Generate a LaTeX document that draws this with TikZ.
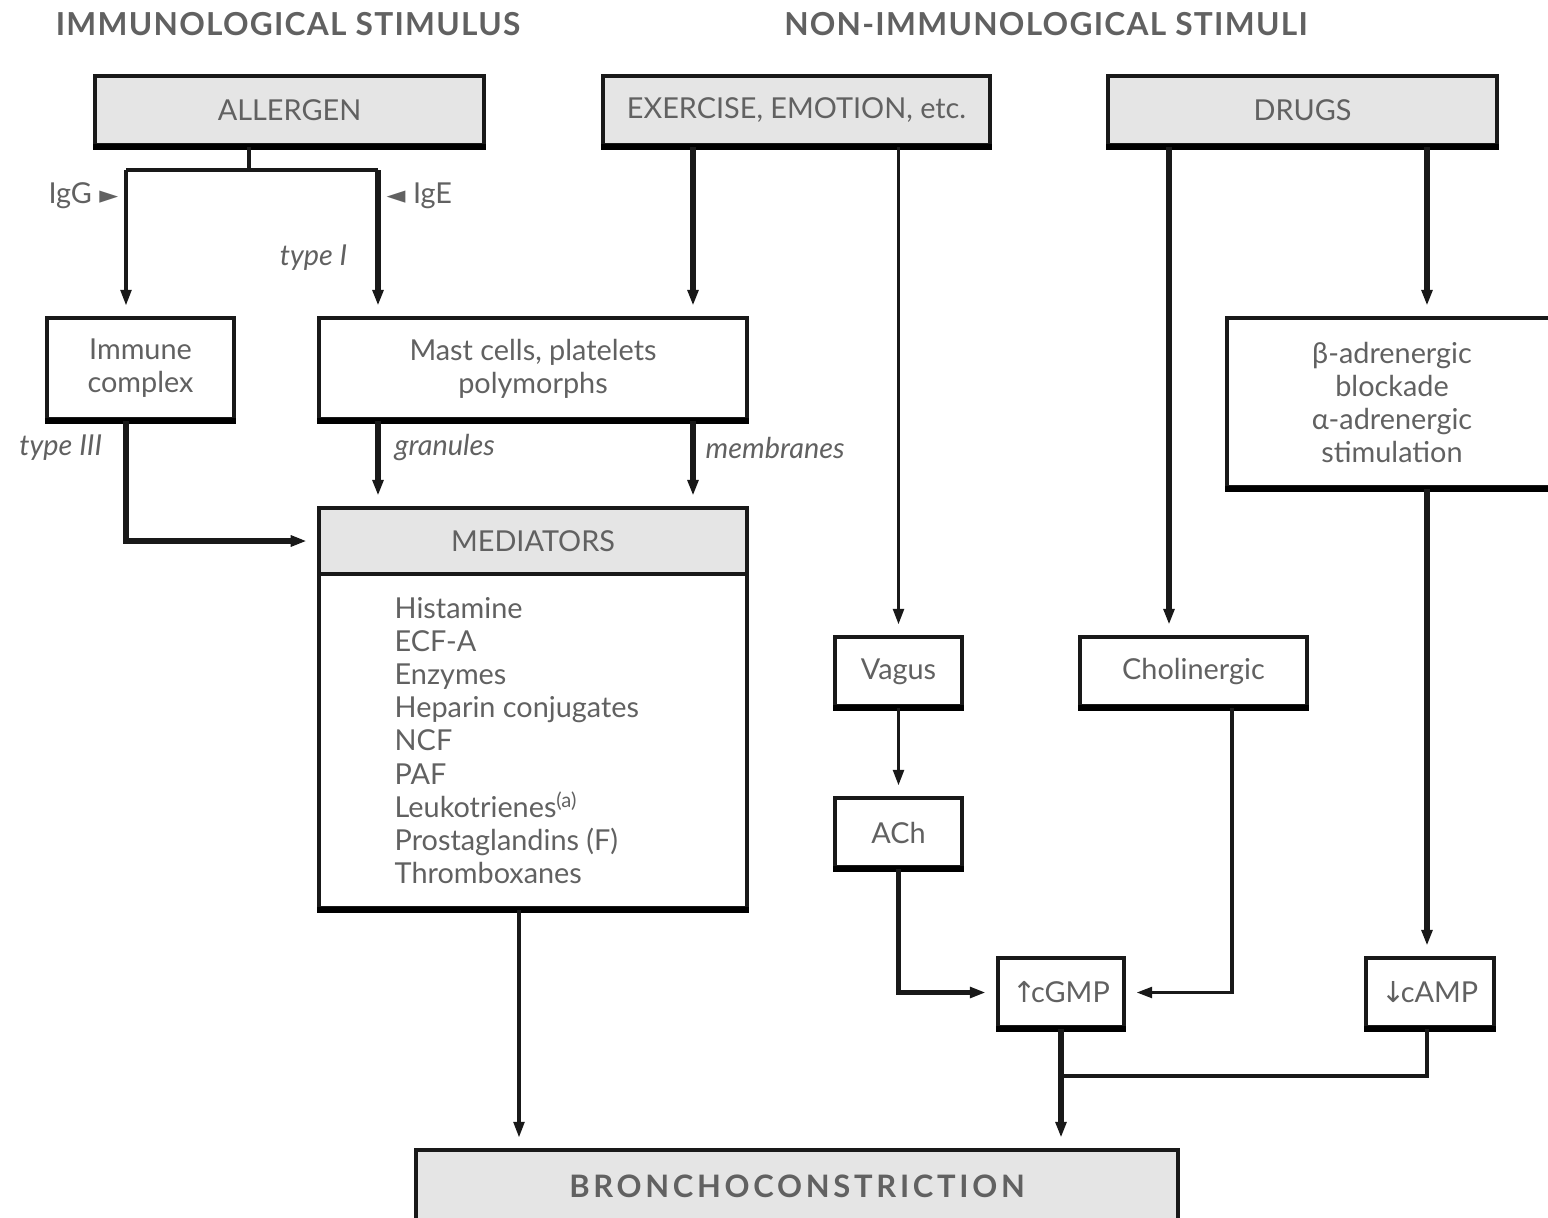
\documentclass[tikz,border=0pt]{standalone}
\usepackage{fontspec}
\setmainfont{Lato}
\newfontfamily\symfont{DejaVu Sans}
\usetikzlibrary{arrows.meta}

\tikzset{
  txt/.style={text=black!62, inner sep=0pt, font=\fontsize{8.2}{9.4}\selectfont},
  box/.style={txt, draw=black!90, line width=1pt, fill=white, align=center},
  graybox/.style={box, fill=black!10},
  lbl/.style={txt, font=\fontsize{8.2}{9.4}\selectfont\itshape},
  head/.style={txt, font=\fontsize{9}{10}\selectfont\bfseries\addfontfeature{LetterSpace=4}},
  link/.style={draw=black!90, line width=1pt},
  arr/.style={link, -{Triangle[length=4.5pt,width=3pt]}, shorten >=3pt},
  heavy/.style={line width=1.5pt},
}

\begin{document}
\begin{tikzpicture}[x=0.01cm,y=-0.01cm]
        
        \clip (0,0) rectangle (1548,1218);
        
        % headings
        \node[head] (immhead) at (288,24) {IMMUNOLOGICAL STIMULUS};
        \node[head] (nonhead) at (1046,24) {NON-IMMUNOLOGICAL STIMULI};
        
        % boxes
        \node[graybox, minimum width=3.89cm, minimum height=0.69cm] (allergen) at (289.5,110.5) {ALLERGEN};
        \node[graybox, minimum width=3.87cm, minimum height=0.69cm] (exercise) at (796.5,110.5) {EXERCISE, EMOTION, etc.};
        \node[graybox, minimum width=3.89cm, minimum height=0.69cm] (drugs) at (1302.5,110.5) {DRUGS};
        \node[box, minimum width=1.87cm, minimum height=1.01cm] (immune) at (140.5,368.5) {Immune\\complex};
        \node[box, minimum width=4.28cm, minimum height=1.01cm] (mast) at (533,368.5) {Mast cells, platelets\\polymorphs};
        \node[box, minimum width=3.30cm, minimum height=1.69cm] (beta) at (1392,402.5) {β-adrenergic\\blockade\\α-adrenergic\\stimulation};
        \node[box, minimum width=4.28cm, minimum height=4.00cm] (med) at (533,708) {};
        \node[graybox, minimum width=4.28cm, minimum height=0.66cm] (medh) at (533,541) {MEDIATORS};
        \node[txt, anchor=north west, align=left] (medlist) at (394,597) {Histamine\\ECF-A\\Enzymes\\Heparin conjugates\\NCF\\PAF\\Leukotrienes\textsuperscript{(a)}\\Prostaglandins (F)\\Thromboxanes};
        \node[box, minimum width=1.27cm, minimum height=0.69cm] (vagus) at (898.5,671.5) {Vagus};
        \node[box, minimum width=2.27cm, minimum height=0.69cm] (chol) at (1193.5,671.5) {Cholinergic};
        \node[box, minimum width=1.27cm, minimum height=0.69cm] (ach) at (898.5,832.5) {ACh};
        \node[box, minimum width=1.26cm, minimum height=0.69cm] (cgmp) at (1061,992.5) {{\symfont ↑}\kern-1.5pt cGMP};
        \node[box, minimum width=1.28cm, minimum height=0.69cm] (camp) at (1430,992.5) {{\symfont ↓}\kern-1.5pt cAMP};
        \node[graybox, minimum width=7.62cm, minimum height=0.72cm, font=\fontsize{8.8}{10}\selectfont\bfseries\addfontfeature{LetterSpace=12}] (broncho) at (797,1186) {BRONCHOCONSTRICTION};
        
        % heavier bottom edges
        \foreach \n in {allergen,exercise,drugs,immune,mast,beta,med,vagus,chol,ach,cgmp,camp,broncho}
            \draw[line width=1.7pt] (\n.south west) -- (\n.south east);
        
        % columns and junctions
        \coordinate (colA) at (126,0);
        \coordinate (colB) at (378,0);
        \coordinate (colC) at (693,0);
        \coordinate (colE) at (1169,0);
        \coordinate (colF) at (1232,0);
        \coordinate (colG) at (1427,0);
        \coordinate (colH) at (519,0);
        \coordinate (split) at (249,170);
        \coordinate (join) at (1061,1076);
        
        % connectors
        \draw[link] (allergen.south -| split) -- (split);
        \draw[link] (split -| colA) -- (split -| colB);
        \draw[arr] (split -| colA) -- (immune.north -| colA);
        \draw[arr,heavy] (split -| colB) -- (mast.north -| colB);
        \draw[arr,heavy] (exercise.south -| colC) -- (mast.north -| colC);
        \draw[arr] (exercise.south -| vagus.north) -- (vagus.north);
        \draw[arr,heavy] (drugs.south -| colE) -- (chol.north -| colE);
        \draw[arr,heavy] (drugs.south -| colG) -- (beta.north -| colG);
        \draw[arr,heavy] (immune.south -| colA) |- (medh.west);
        \draw[arr,heavy] (mast.south -| colB) -- (medh.north -| colB);
        \draw[arr,heavy] (mast.south -| colC) -- (medh.north -| colC);
        \draw[arr] (vagus.south) -- (ach.north);
        \draw[arr,heavy] (ach.south) |- (cgmp.west);
        \draw[arr] (chol.south -| colF) |- (cgmp.east);
        \draw[arr,heavy] (beta.south -| colG) -- (camp.north -| colG);
        \draw[arr] (med.south -| colH) -- (broncho.north -| colH);
        \draw[arr,heavy] (cgmp.south) -- (broncho.north -| cgmp.south);
        \draw[link] (camp.south -| colG) |- (join);
        
        % labels
        \node[txt, anchor=east] (igg) at (119,196) {IgG {\symfont\fontsize{7}{7}\selectfont ►}};
        \node[txt, anchor=west] (ige) at (386,196) {{\symfont\fontsize{7}{7}\selectfont ◄} IgE};
        \node[lbl, anchor=east] (typeI) at (348,258) {type I};
        \node[lbl, anchor=east] (typeIII) at (103,448) {type III};
        \node[lbl, anchor=west] (gran) at (394,448) {granules};
        \node[lbl, anchor=west] (memb) at (705,448) {membranes};
        
        \end{tikzpicture}
\end{document}
